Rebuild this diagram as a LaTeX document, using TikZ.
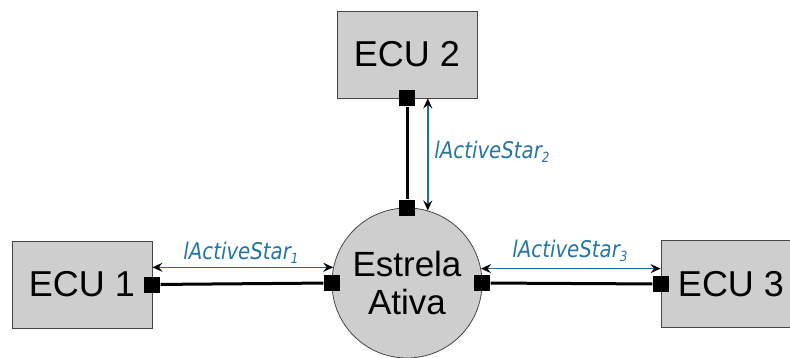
\documentclass[tikz,border=0pt]{standalone}
\usepackage{fontspec}
\setmainfont{Liberation Sans}
\newfontfamily\lblfont[FakeStretch=0.86, ItalicFeatures={FakeStretch=0.86}]{DejaVu Sans}
\usetikzlibrary{arrows.meta}
\definecolor{boxgray}{RGB}{207,206,206}
\definecolor{edgegray}{RGB}{70,70,70}
\definecolor{linkblue}{RGB}{30,112,152}
\definecolor{labelblue}{RGB}{36,118,160}

\begin{document}
\begin{tikzpicture}[x=1pt,y=-1pt,
  >={Stealth[color=black,length=10pt,width=9pt,inset=3.5pt]},
  ecu/.style={draw=edgegray, line width=0.8pt, fill=boxgray,
    minimum width=140pt, minimum height=87pt, inner sep=0pt,
    font=\fontsize{36}{40}\selectfont},
  hub/.style={circle, draw=edgegray, line width=0.8pt, fill=boxgray,
    minimum size=150pt, inner sep=0pt, align=center,
    font=\fontsize{35}{38}\selectfont},
  port/.style={fill=black, minimum size=16pt, inner sep=0pt},
  bus/.style={line width=3pt},
  span/.style={draw=linkblue, line width=1.6pt, <->},
  lbl/.style={text=labelblue, inner sep=0pt, anchor=base,
    font=\lblfont\itshape\fontsize{23}{24}\selectfont}
]
\useasboundingbox (0,0) rectangle (790,358);
\begin{scope}
\clip (0,0) rectangle (790,358);

% control units and the active star
\node[ecu] (e1) at (82,284.5) {ECU 1};
\node[ecu] (e2) at (407,54.5) {ECU 2};
\node[ecu] (e3) at (731,284) {ECU 3};
\node[hub] (hub) at (407,283) {Estrela\\Ativa};

% bus links with their connection ports
\node[port] (p1) at (e1.east) {};
\node[port] (q1) at (hub.west) {};
\node[port] (p2) at (e2.south) {};
\node[port] (q2) at (hub.north) {};
\node[port] (p3) at (e3.west) {};
\node[port] (q3) at (hub.east) {};
\draw[bus] (p1) -- (q1);
\draw[bus] (p2) -- (q2);
\draw[bus] (p3) -- (q3);

% link lengths
\draw[span] (e1.east |- hub.168.5) -- (hub.168.5);
\draw[span] (e2.south -| hub.74.5) -- (hub.74.5);
\draw[span] (hub.11.5) -- (e3.west |- hub.11.5);

\node[lbl] (l1) at (241,259) {lActiveStar\raisebox{-4pt}{\fontsize{14}{14}\selectfont 1}};
\node[lbl] (l2) at (492,159) {lActiveStar\raisebox{-4pt}{\fontsize{14}{14}\selectfont 2}};
\node[lbl] (l3) at (570,258) {lActiveStar\raisebox{-4pt}{\fontsize{14}{14}\selectfont 3}};
\end{scope}
\end{tikzpicture}
\end{document}
